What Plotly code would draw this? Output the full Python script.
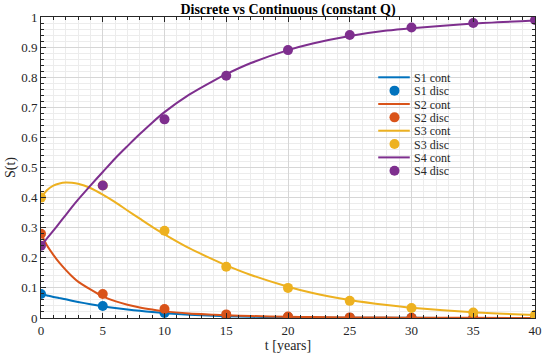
import plotly.graph_objects as go

# discrete sample times and values
t_disc = [0, 5, 10, 15, 20, 25, 30, 35, 40]
s1_disc = [0.08, 0.04, 0.017, 0.007, 0.003, 0.0012, 0.0005, 0.0002, 0.0001]
s2_disc = [0.28, 0.08, 0.03, 0.012, 0.005, 0.002, 0.001, 0.0005, 0.0002]
s3_disc = [0.40, 0.44, 0.29, 0.17, 0.10, 0.057, 0.033, 0.018, 0.010]
s4_disc = [0.24, 0.44, 0.66, 0.805, 0.89, 0.94, 0.965, 0.98, 0.99]

# continuous curves (read at selected times)
t_cont = [0, 0.5, 1, 1.5, 2, 2.5, 3, 4, 5, 6, 7, 8, 9, 10, 12, 14, 15, 17, 20, 22, 25, 28, 30, 35, 40]
s1_cont = [0.080, 0.075, 0.070, 0.066, 0.062, 0.057, 0.053, 0.046, 0.039, 0.033, 0.028, 0.024, 0.020,
           0.016, 0.011, 0.0075, 0.006, 0.004, 0.002, 0.0015, 0.001, 0.0006, 0.0005, 0.0002, 0.0001]
s2_cont = [0.280, 0.240, 0.210, 0.183, 0.160, 0.139, 0.121, 0.095, 0.072, 0.056, 0.044, 0.035, 0.028,
           0.022, 0.015, 0.011, 0.009, 0.0065, 0.004, 0.003, 0.002, 0.0013, 0.001, 0.0005, 0.0003]
s3_cont = [0.400, 0.425, 0.440, 0.447, 0.450, 0.449, 0.446, 0.432, 0.410, 0.385, 0.357, 0.330, 0.303,
           0.278, 0.232, 0.193, 0.175, 0.143, 0.104, 0.083, 0.060, 0.043, 0.034, 0.019, 0.010]
s4_cont = [0.240, 0.265, 0.290, 0.316, 0.342, 0.368, 0.393, 0.440, 0.485, 0.530, 0.571, 0.611, 0.649,
           0.684, 0.742, 0.789, 0.810, 0.847, 0.890, 0.912, 0.937, 0.955, 0.963, 0.978, 0.988]

names = ["S1", "S2", "S3", "S4"]
colors = ["#0072BD", "#D95319", "#EDB120", "#7E2F8E"]
conts = [s1_cont, s2_cont, s3_cont, s4_cont]
discs = [s1_disc, s2_disc, s3_disc, s4_disc]

font_family = "Liberation Serif"
W, H = 550, 358
ML, MR, MT, MB = 41, 8, 17, 40
PW, PH = W - ML - MR, H - MT - MB

fig = go.Figure()
for name, col, yc, yd in zip(names, colors, conts, discs):
    fig.add_trace(go.Scatter(x=t_cont, y=yc, mode="lines", name=f"{name} cont",
                             line=dict(color=col, width=2, shape="spline", smoothing=0.6)))
    fig.add_trace(go.Scatter(x=t_disc, y=yd, mode="markers", name=f"{name} disc",
                             marker=dict(color=col, size=10)))

# MATLAB-like legend (compact rows) built from paper-coordinate shapes and annotations
def px2x(px):
    return (px - ML) / PW

def py2y(py):
    return (H - MB - py) / PH

row0, row_gap = 77.3, 13.35
labels = []
for name, col in zip(names, colors):
    labels.append((f"{name} cont", col, "line"))
    labels.append((f"{name} disc", col, "marker"))
for i, (lab, col, kind) in enumerate(labels):
    yy = py2y(row0 + i * row_gap)
    if kind == "line":
        fig.add_shape(type="line", xref="paper", yref="paper", x0=px2x(383), x1=px2x(415),
                      y0=yy, y1=yy, line=dict(color=col, width=2))
    else:
        fig.add_shape(type="circle", xref="paper", yref="paper", xsizemode="pixel",
                      ysizemode="pixel", xanchor=px2x(399.5), yanchor=yy,
                      x0=-5, x1=5, y0=-5, y1=5, fillcolor=col, line=dict(color=col, width=0))
    fig.add_annotation(text=lab, xref="paper", yref="paper", x=px2x(418), y=yy,
                       xanchor="left", yanchor="middle", showarrow=False, height=13,
                       borderpad=0,
                       font=dict(family=font_family, size=12, color="#262626"))

axis_common = dict(
    showline=True, linecolor="#262626", linewidth=1, mirror="ticks",
    ticks="inside", ticklen=5, tickcolor="#262626",
    showgrid=True, gridcolor="#d6d6d6", gridwidth=1,
    zeroline=False,
    tickfont=dict(family=font_family, size=13, color="#262626"),
)

fig.update_xaxes(range=[0, 40], tick0=0, dtick=5,
                 minor=dict(dtick=1, showgrid=True, gridcolor="#ececec", ticks="inside",
                            ticklen=3, tickcolor="#262626"),
                 title=dict(text="t [years]", font=dict(family=font_family, size=14, color="#262626"),
                            standoff=0),
                 **axis_common)
fig.update_yaxes(range=[0, 1], tick0=0, dtick=0.1,
                 minor=dict(dtick=0.02, showgrid=True, gridcolor="#ececec", ticks="inside",
                            ticklen=3, tickcolor="#262626"),
                 title=dict(text="S(t)", font=dict(family=font_family, size=14, color="#262626"),
                            standoff=2),
                 **axis_common)

fig.update_layout(
    width=W, height=H,
    margin=dict(l=ML, r=MR, t=MT, b=MB),
    paper_bgcolor="white", plot_bgcolor="white",
    title=dict(text="<b>Discrete vs Continuous (constant Q)</b>", x=0.5, xref="paper",
               xanchor="center", yref="container", y=1 - 4 / H, yanchor="top",
               font=dict(family=font_family, size=14, color="black")),
    showlegend=False,
)

fig.write_html("out.html", config={"displayModeBar": False},
               post_script="document.body.style.margin='0';")
